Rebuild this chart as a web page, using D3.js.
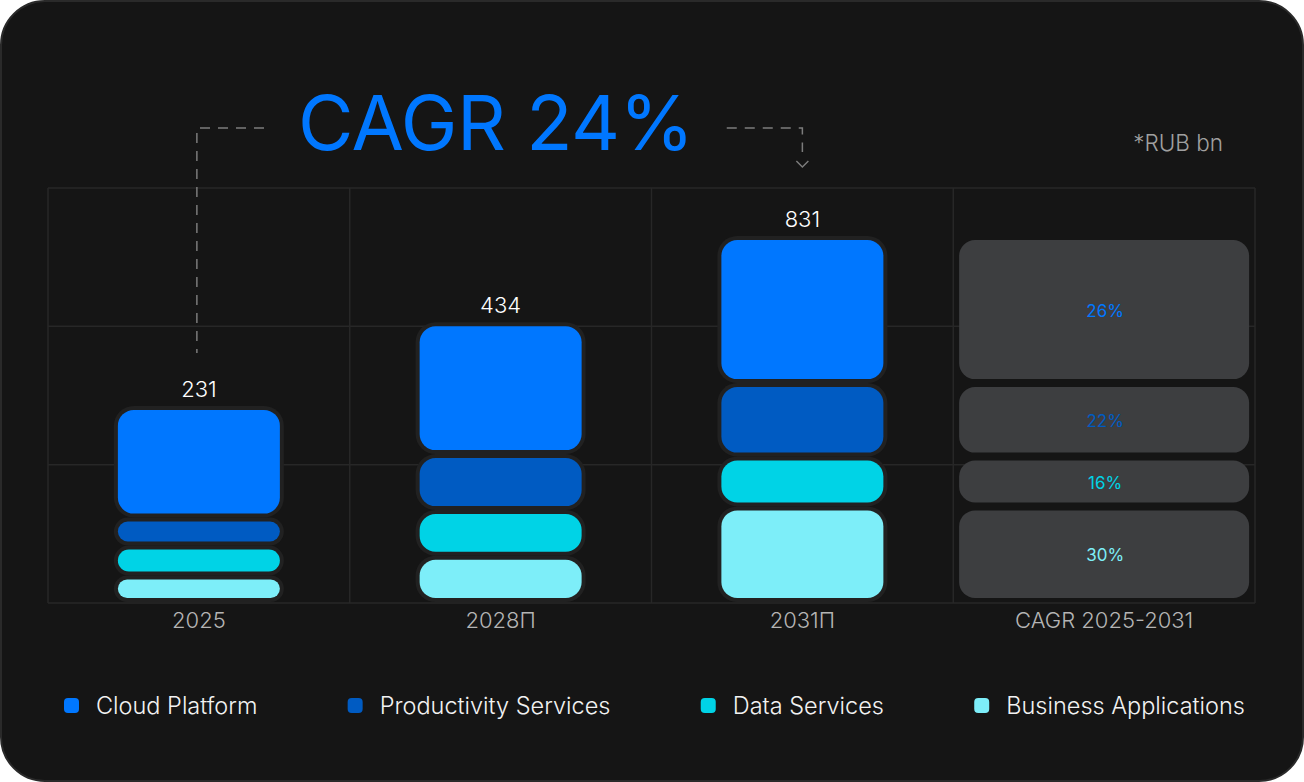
<!DOCTYPE html>
<html>
<head>
<meta charset="utf-8">
<script src="https://cdn.jsdelivr.net/npm/d3@7"></script>
<style>
  html, body { margin: 0; padding: 0; background: #ffffff; }
  svg { display: block; font-family: Inter, "Noto Sans", sans-serif; }
</style>
</head>
<body>
<svg id="chart"></svg>
<script>
// values, RUB bn
const categories = ['2025', '2028П', '2031П'];
const totals = [231, 434, 831];
const seriesNames = ['Cloud Platform', 'Productivity Services', 'Data Services', 'Business Applications'];
const cloudPlatform = [146, 217, 346];
const productivityServices = [28, 84, 163];
const dataServices = [31, 66, 104];
const businessApplications = [26, 67, 218];
const cagrLabels = ['26%', '22%', '16%', '30%'];
const cagrColumn = 'CAGR 2025-2031';
const titleText = 'CAGR 24%';
const unitText = '*RUB bn';

const colors = ['#0077ff', '#005bc2', '#00d3e6', '#7deef9'];
const seriesValues = [cloudPlatform, productivityServices, dataServices, businessApplications];

const W = 1304, H = 782;
const grid = { left: 48, right: 1255, top: 188, bottom: 603 };
const base = 598, gap = 8, barW = 162;

const svg = d3.select('#chart').attr('width', W).attr('height', H);

// card
svg.append('rect')
  .attr('x', 1).attr('y', 1).attr('width', W - 2).attr('height', H - 2)
  .attr('rx', 44).attr('fill', '#151515')
  .attr('stroke', '#2a2a2a').attr('stroke-width', 2);

const x = d3.scaleBand()
  .domain([...categories, cagrColumn])
  .range([grid.left, grid.right]);

// totals sit on a log scale in the original
const y = d3.scaleLog()
  .domain([56, d3.max(totals)])
  .range([base, 240]);

const rows = d3.scaleLinear().domain([0, 3]).range([grid.top, grid.bottom]);

// grid
const g = svg.append('g').attr('stroke', '#272727').attr('stroke-width', 1.5);
g.selectAll('.h').data(d3.range(4)).join('line')
  .attr('x1', grid.left).attr('x2', grid.right)
  .attr('y1', d => rows(d)).attr('y2', d => rows(d));
g.selectAll('.v').data(d3.range(x.domain().length + 1)).join('line')
  .attr('y1', grid.top).attr('y2', grid.bottom)
  .attr('x1', d => grid.left + d * x.bandwidth())
  .attr('x2', d => grid.left + d * x.bandwidth());

// stack layout: bottom to top = business, data, productivity, cloud
function layout(ci) {
  const total = totals[ci];
  const inner = (base - y(total)) - gap * (seriesValues.length - 1);
  const s = d3.scaleLinear().domain([0, total]).range([0, inner]);
  const segs = [];
  let cur = base;
  for (let k = seriesValues.length - 1; k >= 0; k--) {
    const h = s(seriesValues[k][ci]);
    segs.push({ k, y: cur - h, h, ci });
    cur = cur - h - gap;
  }
  return segs;
}

const allSegs = categories.flatMap((c, i) => layout(i));

const bars = svg.append('g');
bars.selectAll('rect.border').data(allSegs).join('rect')
  .attr('x', d => x(categories[d.ci]) + (x.bandwidth() - barW) / 2 - 4)
  .attr('y', d => d.y - 4)
  .attr('width', barW + 8)
  .attr('height', d => d.h + 8)
  .attr('rx', d => Math.min(16, d.h / 2) + 4)
  .attr('fill', '#212121');
bars.selectAll('rect.fill').data(allSegs).join('rect')
  .attr('x', d => x(categories[d.ci]) + (x.bandwidth() - barW) / 2)
  .attr('y', d => d.y)
  .attr('width', barW)
  .attr('height', d => d.h)
  .attr('rx', d => Math.min(16, d.h / 2))
  .attr('fill', d => colors[d.k]);

// totals
svg.selectAll('text.total').data(categories).join('text')
  .attr('x', d => x(d) + x.bandwidth() / 2)
  .attr('y', (d, i) => y(totals[i]) - 13)
  .attr('text-anchor', 'middle')
  .attr('font-size', 22).attr('font-weight', 300).attr('fill', '#ffffff')
  .text((d, i) => totals[i]);

// CAGR column, shaped after the last year
const lastSegs = layout(categories.length - 1);
const cg = svg.append('g');
const boxW = 290;
cg.selectAll('rect').data(lastSegs).join('rect')
  .attr('x', x(cagrColumn) + (x.bandwidth() - boxW) / 2)
  .attr('y', d => d.y)
  .attr('width', boxW)
  .attr('height', d => d.h)
  .attr('rx', 16)
  .attr('fill', '#3d3e40');
cg.selectAll('text').data(lastSegs).join('text')
  .attr('x', x(cagrColumn) + x.bandwidth() / 2 + 1)
  .attr('y', d => d.y + d.h / 2)
  .attr('dy', '0.42em')
  .attr('text-anchor', 'middle')
  .attr('font-size', 17)
  .attr('fill', d => colors[d.k])
  .text(d => cagrLabels[d.k]);

// category axis
const xAxis = d3.axisBottom(x).tickSize(0).tickPadding(0);
const ax = svg.append('g')
  .attr('transform', `translate(0, ${grid.bottom})`)
  .call(xAxis);
ax.select('.domain').remove();
ax.selectAll('text')
  .attr('dy', 0).attr('y', 25)
  .attr('font-family', 'Inter, sans-serif')
  .attr('font-size', 22).attr('font-weight', 300).attr('fill', '#b4b4b4');

// title + connectors
const title = svg.append('text')
  .attr('x', 298).attr('y', 150)
  .attr('font-size', 76).attr('fill', '#0077ff')
  .attr('letter-spacing', -0.5)
  .text(titleText);
const tb = title.node().getBBox();

const cx0 = x(categories[0]) + x.bandwidth() / 2 - 2;
const cx2 = x(categories[2]) + x.bandwidth() / 2;
const lineY = 128;
svg.append('path')
  .attr('d', `M${tb.x - 34},${lineY} H${cx0} V${y(totals[0]) - 57}`)
  .attr('fill', 'none').attr('stroke', '#7c7c7c').attr('stroke-width', 1.5)
  .attr('stroke-dasharray', '10,8');
svg.append('path')
  .attr('d', `M${tb.x + tb.width + 33},${lineY} H${cx2} V${lineY + 24}`)
  .attr('fill', 'none').attr('stroke', '#7c7c7c').attr('stroke-width', 1.5)
  .attr('stroke-dasharray', '10,8');
svg.append('path')
  .attr('d', `M${cx2 - 6},${lineY + 33} L${cx2},${lineY + 39} L${cx2 + 6},${lineY + 33}`)
  .attr('fill', 'none').attr('stroke', '#7c7c7c').attr('stroke-width', 1.5);

svg.append('text')
  .attr('x', 1223).attr('y', 151)
  .attr('text-anchor', 'end')
  .attr('font-size', 22.5).attr('font-weight', 300).attr('fill', '#a0a0a0')
  .text(unitText);

// legend, spread between fixed ends
const legend = svg.append('g');
const items = legend.selectAll('g').data(seriesNames).join('g');
items.append('rect')
  .attr('y', 698).attr('width', 15).attr('height', 15).attr('rx', 4)
  .attr('fill', (d, i) => colors[i]);
items.append('text')
  .attr('x', 32).attr('y', 714)
  .attr('font-size', 23.5).attr('font-weight', 300).attr('fill', '#f2f2f2')
  .text(d => d);
const widths = items.nodes().map(n => n.getBBox().width);
const lx0 = 64, lx1 = 1245;
const spare = (lx1 - lx0 - d3.sum(widths)) / (seriesNames.length - 1);
let acc = lx0;
items.attr('transform', (d, i) => {
  const t = `translate(${acc},0)`;
  acc += widths[i] + spare;
  return t;
});
</script>
</body>
</html>
